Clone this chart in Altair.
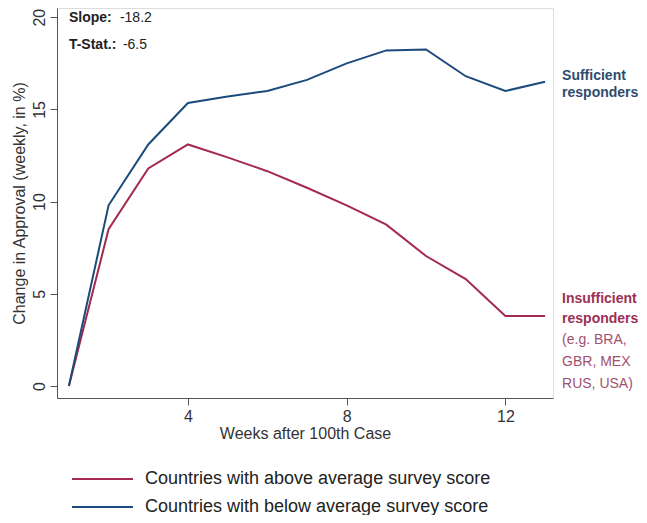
import altair as alt
import pandas as pd

weeks = list(range(1, 14))
above = [0, 8.5, 11.8, 13.1, 12.4, 11.65, 10.75, 9.8, 8.75, 7.05, 5.8, 3.8, 3.8]
below = [0, 9.8, 13.1, 15.35, 15.7, 16.0, 16.6, 17.5, 18.2, 18.25, 16.8, 16.0, 16.5]
series_names = ["Countries with above average survey score",
                "Countries with below average survey score"]
series_colors = ["#a3294f", "#1c4a7c"]

rows = []
for w, a, b in zip(weeks, above, below):
    rows.append({"week": w, "value": a, "series": series_names[0]})
    rows.append({"week": w, "value": b, "series": series_names[1]})
df = pd.DataFrame(rows)

FONT = "Liberation Sans"
xs = alt.Scale(domain=[0.7, 13.2], nice=False, zero=False)
ys = alt.Scale(domain=[-0.65, 20.5], nice=False, zero=False)
cs = alt.Scale(domain=series_names, range=series_colors)

lines = alt.Chart(df).mark_line(strokeWidth=2, clip=False).encode(
    x=alt.X("week:Q", scale=xs,
            axis=alt.Axis(title="Weeks after 100th Case", values=[4, 8, 12], grid=False,
                          tickSize=7, labelFontSize=16, titleFontSize=16,
                          titleFontWeight="normal", labelPadding=3, titlePadding=1,
                          domainColor="#555", tickColor="#555", labelColor="#333",
                          titleColor="#333", labelFont=FONT, titleFont=FONT)),
    y=alt.Y("value:Q", scale=ys,
            axis=alt.Axis(title="Change in Approval (weekly, in %)", values=[0, 5, 10, 15, 20],
                          grid=False, tickSize=7, labelAngle=270, labelAlign="center",
                          labelBaseline="bottom", labelFontSize=16, titleFontSize=16,
                          titleFontWeight="normal", labelPadding=3, titlePadding=4,
                          domainColor="#555", tickColor="#555", labelColor="#333",
                          titleColor="#333", labelFont=FONT, titleFont=FONT)),
    color=alt.Color("series:N", scale=cs, legend=None),
)

ann_x = [1.0, 1.0]
ann_y = [19.95, 18.5]
ann_bold = ["Slope:", "T-Stat.:"]
ann_val = ["-18.2", "-6.5"]
ann_dx = [51, 54]
ann_df = pd.DataFrame({"x": ann_x, "y": ann_y, "bold": ann_bold, "val": ann_val, "dx": ann_dx})

ann_b = alt.Chart(ann_df).mark_text(align="left", baseline="middle", fontSize=14,
                                    fontWeight="bold", font=FONT, color="#222").encode(
    x=alt.X("x:Q", scale=xs), y=alt.Y("y:Q", scale=ys), text="bold:N")
ann_v1 = alt.Chart(ann_df.iloc[[0]]).mark_text(align="left", baseline="middle", fontSize=14,
                                               font=FONT, color="#222", dx=ann_dx[0]).encode(
    x=alt.X("x:Q", scale=xs), y=alt.Y("y:Q", scale=ys), text="val:N")
ann_v2 = alt.Chart(ann_df.iloc[[1]]).mark_text(align="left", baseline="middle", fontSize=14,
                                               font=FONT, color="#222", dx=ann_dx[1]).encode(
    x=alt.X("x:Q", scale=xs), y=alt.Y("y:Q", scale=ys), text="val:N")

end_df = pd.DataFrame({"x": [weeks[-1]], "yb": [below[-1]], "ya": [above[-1]]})

suff = alt.Chart(end_df).mark_text(align="left", baseline="middle", fontSize=14,
                                   fontWeight="bold", font=FONT, color="#2e4c6d",
                                   dx=17, dy=-6, lineHeight=17).encode(
    x=alt.X("x:Q", scale=xs), y=alt.Y("yb:Q", scale=ys),
    text=alt.value(["Sufficient", "responders"]))
insuff = alt.Chart(end_df).mark_text(align="left", baseline="middle", fontSize=14,
                                     fontWeight="bold", font=FONT, color="#9b2f55",
                                     dx=17, dy=-17, lineHeight=20).encode(
    x=alt.X("x:Q", scale=xs), y=alt.Y("ya:Q", scale=ys),
    text=alt.value(["Insufficient", "responders"]))
eg = alt.Chart(end_df).mark_text(align="left", baseline="middle", fontSize=14,
                                 font=FONT, color="#a2506e",
                                 dx=17, dy=24, lineHeight=22).encode(
    x=alt.X("x:Q", scale=xs), y=alt.Y("ya:Q", scale=ys),
    text=alt.value(["(e.g. BRA,", "GBR, MEX", "RUS, USA)"]))

main = alt.layer(lines, ann_b, ann_v1, ann_v2, suff, insuff, eg)

# legend drawn below the plot, rows placed by an ordinal band scale
leg_df = pd.DataFrame({"series": series_names})
leg_y = alt.Y("series:N", scale=alt.Scale(domain=series_names, range=[457, 513],
                                          paddingInner=0, paddingOuter=0), axis=None)
leg_rule = alt.Chart(leg_df).mark_rule(strokeWidth=2).encode(
    x=alt.value(15), x2=alt.value(76), y=leg_y,
    color=alt.Color("series:N", scale=cs, legend=None))
leg_text = alt.Chart(leg_df).mark_text(align="left", baseline="middle", fontSize=18,
                                       font=FONT, color="#222").encode(
    x=alt.value(88), y=leg_y, text="series:N")
legend = alt.layer(leg_rule, leg_text)

chart = alt.layer(main, legend).resolve_scale(y="independent").properties(
    width=496, height=390,
    autosize=alt.AutoSizeParams(type="none"),
    padding={"left": 49, "top": 0, "right": 86, "bottom": 117},
).configure_view(stroke=None).configure(background="white")

chart.save("out.html", embed_options={"renderer": "svg", "actions": False})
